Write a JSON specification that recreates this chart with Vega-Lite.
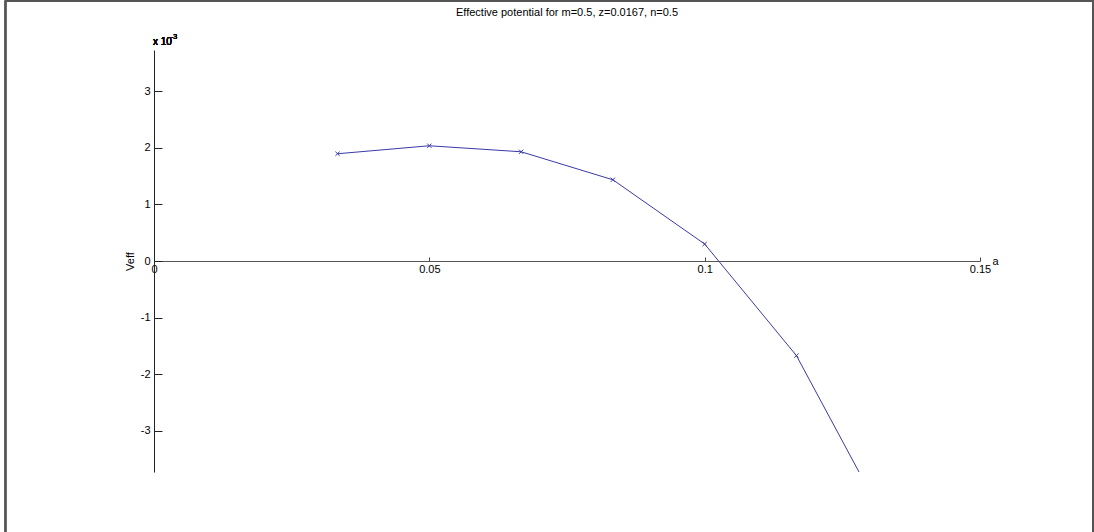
{
  "$schema": "https://vega.github.io/schema/vega-lite/v6.json",
  "width": 826,
  "height": 422,
  "autosize": {"type": "none"},
  "padding": {"left": 154, "top": 50, "right": 114, "bottom": 60},
  "background": "white",
  "config": {
    "view": {"stroke": null},
    "font": "Liberation Sans",
    "axis": {"grid": false, "labelFont": "Liberation Sans", "titleFont": "Liberation Sans", "labelColor": "#000", "titleColor": "#000", "titleFontWeight": "normal"}
  },
  "title": {
    "text": "Effective potential for m=0.5, z=0.0167, n=0.5",
    "font": "Liberation Sans",
    "fontSize": 11,
    "fontWeight": "normal",
    "color": "#000",
    "anchor": "middle",
    "frame": "group",
    "offset": -17
  },
  "data": {
    "values": [
      {"a": 0.033333, "Veff": 0.001896},
      {"a": 0.05, "Veff": 0.002037},
      {"a": 0.066667, "Veff": 0.001931},
      {"a": 0.083333, "Veff": 0.001436},
      {"a": 0.1, "Veff": 0.0003},
      {"a": 0.116667, "Veff": -0.001673},
      {"a": 0.133333, "Veff": -0.00469}
    ]
  },
  "layer": [
    {
      "mark": {"type": "rect", "fill": null, "stroke": "#555", "strokeWidth": 1.5, "clip": false},
      "encoding": {
        "x": {"datum": -0.02697, "type": "quantitative", "scale": {"domain": [0, 0.15], "nice": false, "zero": false}},
        "x2": {"datum": 0.17052},
        "y": {"datum": 0.00459, "type": "quantitative", "scale": {"domain": [-0.00373, 0.00373], "nice": false, "zero": false}},
        "y2": {"datum": -0.0065}
      }
    },
    {
      "mark": {"type": "line", "color": "#3a3aa8", "strokeWidth": 1, "clip": true},
      "encoding": {
        "x": {
          "field": "a", "type": "quantitative",
          "scale": {"domain": [0, 0.15], "nice": false, "zero": false},
          "axis": {
            "orient": "bottom",
            "offset": -211,
            "values": [0, 0.05, 0.1, 0.15],
            "format": "~g",
            "labelFlush": false,
            "labelOverlap": false,
            "labelFontSize": 11,
            "labelPadding": 6,
            "tickSize": -4,
            "tickColor": "#444",
            "domainColor": "#555",
            "title": "a",
            "titleFontSize": 11,
            "titleX": 838,
            "titleY": 3,
            "titleAlign": "left",
            "titleBaseline": "alphabetic"
          }
        },
        "y": {
          "field": "Veff", "type": "quantitative",
          "scale": {"domain": [-0.00373, 0.00373], "nice": false, "zero": false},
          "axis": {
            "orient": "left",
            "values": [-0.003, -0.002, -0.001, 0, 0.001, 0.002, 0.003],
            "labelExpr": "'' + round(datum.value * 1000)",
            "labelFlush": false,
            "labelOverlap": false,
            "labelFontSize": 11,
            "labelPadding": 12,
            "tickSize": -8,
            "tickColor": "#222",
            "domainColor": "#222",
            "title": "Veff",
            "titleFontSize": 11,
            "titleX": -19,
            "titleY": 211,
            "titleAngle": -90,
            "titleAlign": "center"
          }
        }
      }
    },
    {
      "mark": {"type": "point", "shape": "M-1,-1L1,1M1,-1L-1,1", "filled": false, "color": "#3a3aa8", "size": 18, "strokeWidth": 1, "clip": true, "opacity": 1},
      "encoding": {
        "x": {"field": "a", "type": "quantitative"},
        "y": {"field": "Veff", "type": "quantitative"}
      }
    },
    {
      "mark": {"type": "text", "text": "x 10", "align": "left", "baseline": "alphabetic", "fontSize": 10, "fontWeight": "normal", "dx": -1, "dy": -5, "color": "#000"},
      "encoding": {
        "x": {"datum": 0, "type": "quantitative"},
        "y": {"datum": 0.00373, "type": "quantitative"}
      }
    },
    {
      "mark": {"type": "text", "text": "-3", "align": "left", "baseline": "alphabetic", "fontSize": 7, "fontWeight": "normal", "dx": 17, "dy": -11, "color": "#000"},
      "encoding": {
        "x": {"datum": 0, "type": "quantitative"},
        "y": {"datum": 0.00373, "type": "quantitative"}
      }
    }
  ]
}
